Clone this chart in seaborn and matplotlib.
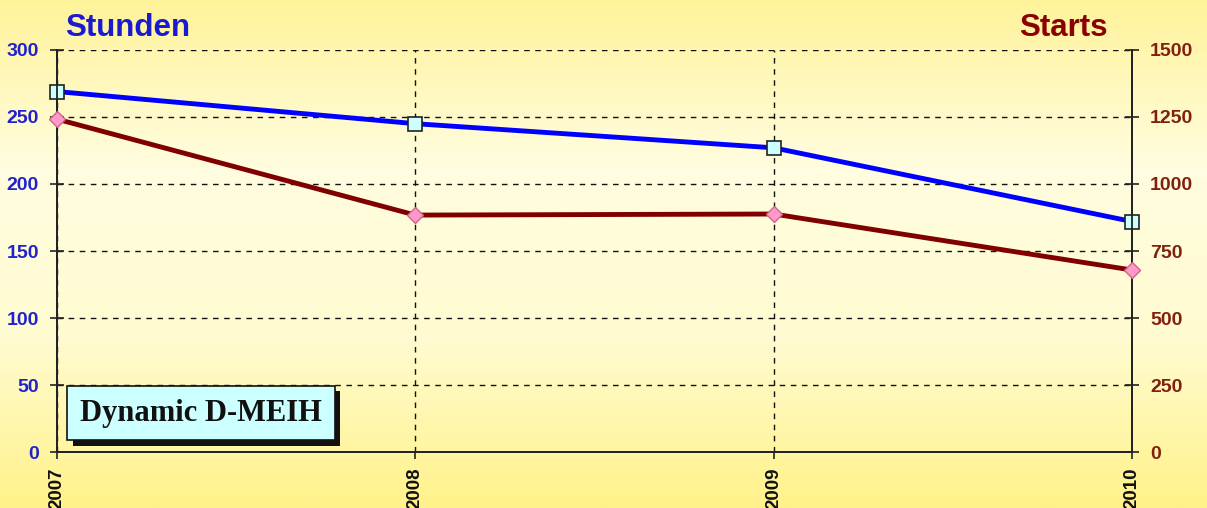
import numpy as np
import pandas as pd
import matplotlib
matplotlib.use("Agg")
import matplotlib.pyplot as plt
from matplotlib.colors import LinearSegmentedColormap
import matplotlib.patheffects as pe
import seaborn as sns

years = [2007, 2008, 2009, 2010]
stunden = [269, 245, 227, 172]
starts = [1242, 884, 888, 679]
left_ticks = [0, 50, 100, 150, 200, 250, 300]
right_ticks = [0, 250, 500, 750, 1000, 1250, 1500]

sns.set_theme(style="white")
plt.rcParams['font.family'] = ['Liberation Sans', 'DejaVu Sans']

fig = plt.figure(figsize=(12.07, 5.08), dpi=100)

# yellow background gradient
bg = fig.add_axes([0, 0, 1, 1], zorder=-10)
cmap = LinearSegmentedColormap.from_list(
    "bgy", ["#fff39a", "#fffde0", "#fffbd0", "#fff28a"])
grad = np.linspace(0, 1, 256).reshape(-1, 1)
bg.imshow(grad, aspect="auto", cmap=cmap, extent=[0, 1, 0, 1], origin="upper")
bg.axis("off")

ax = fig.add_axes([0.0472, 0.1102, 0.8907, 0.7914])
ax.patch.set_alpha(0)
ax2 = ax.twinx()

df1 = pd.DataFrame({"Jahr": years, "Stunden": stunden})
df2 = pd.DataFrame({"Jahr": years, "Starts": starts})

sns.lineplot(data=df1, x="Jahr", y="Stunden", ax=ax, color="#0000ff", lw=3.5,
             marker="s", markersize=9.5, markerfacecolor="#ccffff",
             markeredgecolor="#222222", markeredgewidth=1.2, zorder=5, clip_on=False)
sns.lineplot(data=df2, x="Jahr", y="Starts", ax=ax2, color="#800000", lw=3.5,
             marker="D", markersize=8, markerfacecolor="#ff99cc",
             markeredgecolor="#cc6688", markeredgewidth=1.0, zorder=5, clip_on=False)

ax.set_xlim(2007, 2010)
ax.set_ylim(0, 300)
ax2.set_ylim(0, 1500)
ax.set_yticks(left_ticks)
ax2.set_yticks(right_ticks)
ax.set_xticks(years)
ax.set_xticklabels([str(y) for y in years], rotation=90, fontsize=13.5,
                   fontweight="bold", color="#111111")
ax.set_yticklabels([str(v) for v in left_ticks], fontsize=14,
                   fontweight="bold", color="#2222cc")
ax2.set_yticklabels([str(v) for v in right_ticks], fontsize=14,
                    fontweight="bold", color="#802010")
ax.set_xlabel("")
ax.set_ylabel("")
ax2.set_ylabel("")

ax.grid(True, axis="y", linestyle=(0, (4, 4)), color="#111111", lw=1)
ax.grid(True, axis="x", linestyle=(0, (4, 4)), color="#111111", lw=1)
ax.set_axisbelow(True)

for a in (ax, ax2):
    a.spines["top"].set_visible(False)
    for s in ("left", "right", "bottom"):
        a.spines[s].set_color("#222222")
        a.spines[s].set_linewidth(1.3)
ax.tick_params(axis="y", which="major", direction="inout", length=10,
               width=1.2, color="#222222", left=True, pad=8)
ax2.tick_params(axis="y", which="major", direction="inout", length=10,
                width=1.2, color="#222222", right=True, pad=8)
ax.tick_params(axis="x", which="major", direction="out", length=5,
               width=1.2, color="#222222", bottom=True, pad=6)

fig.text(0.054, 0.945, "Stunden", fontsize=22.5, fontweight="bold",
         color="#1a1ad0", ha="left", va="center")
fig.text(0.918, 0.945, "Starts", fontsize=22.5, fontweight="bold",
         color="#8b0000", ha="right", va="center")

label = ax2.text(0.0214, 0.097, "Dynamic D-MEIH", transform=ax.transAxes,
                 fontsize=22, fontweight="bold", family=["Liberation Serif"],
                 color="#111111", ha="left", va="center", zorder=10,
                 bbox=dict(boxstyle="square,pad=0.42", fc="#ccffff",
                           ec="#111111", lw=1.2))
label.get_bbox_patch().set_path_effects(
    [pe.SimplePatchShadow(offset=(4, -4), shadow_rgbFace="#111111", alpha=1.0),
     pe.Normal()])

fig.savefig("out.png", dpi=100)
